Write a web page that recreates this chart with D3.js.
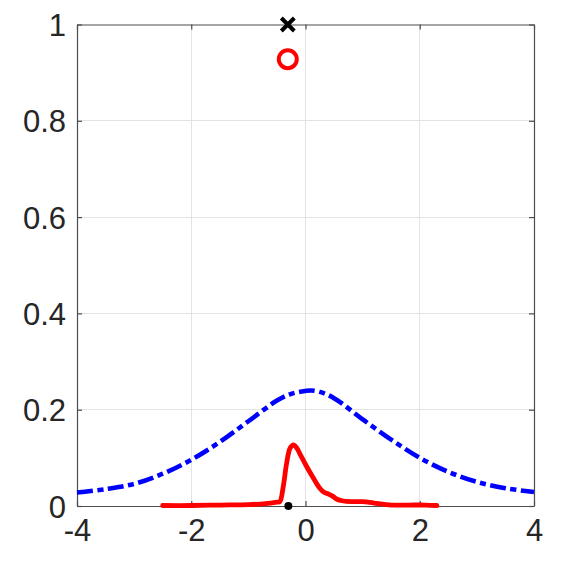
<!DOCTYPE html>
<html>
<head>
<meta charset="utf-8">
<script src="https://cdn.jsdelivr.net/npm/d3@7"></script>
<style>
  html, body { margin: 0; padding: 0; background: #fff; }
  svg { display: block; }
  text { font-family: "Liberation Sans", Arial, Helvetica, sans-serif; fill: #262626; }
</style>
</head>
<body>
<svg id="chart" width="571" height="571"></svg>
<script>
// ---- data ----
const xTicks = [-4, -2, 0, 2, 4];
const yTicks = [0, 0.2, 0.4, 0.6, 0.8, 1];
const xTickLabels = ["-4", "-2", "0", "2", "4"];
const yTickLabels = ["0", "0.2", "0.4", "0.6", "0.8", "1"];

const blueX = [-4, -3.5, -3, -2.5, -2, -1.5, -1, -0.5, -0.25, 0, 0.1, 0.25, 0.5, 1, 1.5, 2, 2.5, 3, 3.5, 4];
const blueY = [0.028, 0.035, 0.046, 0.067, 0.096, 0.133, 0.176, 0.219, 0.233, 0.239, 0.240, 0.237, 0.224, 0.180, 0.138, 0.100, 0.071, 0.050, 0.037, 0.029];

const redX = [-2.5, -2, -1.5, -1, -0.7, -0.5, -0.45, -0.39, -0.33, -0.27, -0.21, -0.15, -0.1, 0.02, 0.14, 0.25, 0.33, 0.4, 0.48, 0.55, 0.66, 0.8, 1.0, 1.2, 1.5, 1.8, 2.1, 2.3];
const redY = [0.001, 0.001, 0.002, 0.003, 0.005, 0.008, 0.009, 0.04, 0.089, 0.12, 0.127, 0.12, 0.109, 0.082, 0.0575, 0.037, 0.028, 0.025, 0.02, 0.014, 0.0104, 0.009, 0.009, 0.006, 0.002, 0.002, 0.002, 0.001];

const crossPoint = { x: -0.31, y: 1.0 };
const circlePoint = { x: -0.31, y: 0.928 };
const dotPoint = { x: -0.3, y: 0.0 };

// ---- layout ----
const svg = d3.select("#chart");
const L = 77, R = 534, T = 24.5, B = 506;
const x = d3.scaleLinear().domain([-4, 4]).range([L, R]);
const y = d3.scaleLinear().domain([0, 1]).range([B, T]);

// grid
const grid = svg.append("g");
grid.selectAll("line.gx").data(xTicks.slice(1, -1)).join("line")
  .attr("x1", d => x(d)).attr("x2", d => x(d)).attr("y1", T).attr("y2", B)
  .attr("stroke", "#e3e3e3").attr("stroke-width", 1).attr("shape-rendering", "crispEdges");
grid.selectAll("line.gy").data(yTicks.slice(1, -1)).join("line")
  .attr("x1", L).attr("x2", R).attr("y1", d => y(d)).attr("y2", d => y(d))
  .attr("stroke", "#e3e3e3").attr("stroke-width", 1).attr("shape-rendering", "crispEdges");

// axes via d3 axes (inside ticks)
const tl = 5;
const axB = svg.append("g").attr("transform", `translate(0,${B})`)
  .call(d3.axisBottom(x).tickValues(xTicks).tickSize(-tl).tickSizeOuter(0).tickFormat((d, i) => xTickLabels[i]));
const axT = svg.append("g").attr("transform", `translate(0,${T})`)
  .call(d3.axisTop(x).tickValues(xTicks).tickSize(-tl).tickSizeOuter(0).tickFormat(""));
const axL = svg.append("g").attr("transform", `translate(${L},0)`)
  .call(d3.axisLeft(y).tickValues(yTicks).tickSize(-tl).tickSizeOuter(0).tickFormat((d, i) => yTickLabels[i]));
const axR = svg.append("g").attr("transform", `translate(${R},0)`)
  .call(d3.axisRight(y).tickValues(yTicks).tickSize(-tl).tickSizeOuter(0).tickFormat(""));

[axB, axT, axL, axR].forEach(g => {
  g.select(".domain").attr("stroke", "#4d4d4d").attr("stroke-width", 1.2);
  g.selectAll(".tick line").attr("stroke", "#4d4d4d").attr("stroke-width", 1.2);
  g.selectAll("text").attr("font-size", 31).attr("fill", "#262626")
    .style("font-family", '"Liberation Sans", Arial, Helvetica, sans-serif');
});
axB.selectAll(".tick text").attr("y", 13).attr("dy", "0.71em");
axL.selectAll(".tick text").attr("x", -11).attr("dy", "0.36em");

// curves
const line = d3.line().x(d => x(d[0])).y(d => y(d[1])).curve(d3.curveCatmullRom.alpha(0.5));
svg.append("path")
  .datum(blueX.map((v, i) => [v, blueY[i]]))
  .attr("d", line)
  .attr("fill", "none").attr("stroke", "#0000ff").attr("stroke-width", 4.6)
  .attr("stroke-dasharray", "16,4.5,6,4.5");

svg.append("path")
  .datum(redX.map((v, i) => [v, redY[i]]))
  .attr("d", line)
  .attr("fill", "none").attr("stroke", "#ff0000").attr("stroke-width", 4.8)
  .attr("stroke-linejoin", "round").attr("stroke-linecap", "round");

// markers
const cx = x(crossPoint.x), cy = y(crossPoint.y), s = 6.5;
svg.append("path")
  .attr("d", `M${cx - s},${cy - s}L${cx + s},${cy + s}M${cx - s},${cy + s}L${cx + s},${cy - s}`)
  .attr("stroke", "#000").attr("stroke-width", 4);

svg.append("circle")
  .attr("cx", x(circlePoint.x)).attr("cy", y(circlePoint.y)).attr("r", 9)
  .attr("fill", "none").attr("stroke", "#ff0000").attr("stroke-width", 4);

svg.append("circle")
  .attr("cx", x(dotPoint.x)).attr("cy", y(dotPoint.y)).attr("r", 4)
  .attr("fill", "#000");
</script>
</body>
</html>
